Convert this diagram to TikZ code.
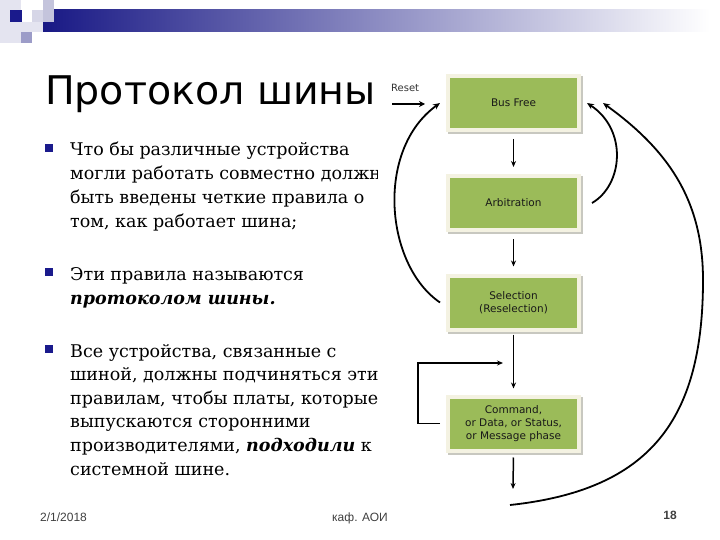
\documentclass[tikz,border=0pt]{standalone}
\usepackage{fontspec}
\setmainfont{DejaVu Serif}
\newfontfamily\titlefont{DejaVu Sans}
\newfontfamily\boxfont{DejaVu Sans}
\newfontfamily\footfont{Liberation Sans}
\usetikzlibrary{arrows.meta,calc}
\definecolor{navy}{HTML}{1A1A8C}
\definecolor{boxgreen}{HTML}{9BBB59}
\definecolor{boxframe}{HTML}{F4F2E2}
\definecolor{boxshadow}{HTML}{C8C8C0}
\definecolor{lav1}{HTML}{E4E4F0}
\definecolor{lav2}{HTML}{C4C4DC}
\definecolor{lav3}{HTML}{9C9CC8}
\definecolor{footgray}{HTML}{404040}
\tikzset{
  bodyline/.style={anchor=base west, inner sep=0pt, font=\fontsize{17.5}{22}\selectfont},
  bulletsq/.style={fill=navy, draw=none, minimum size=8pt, inner sep=0pt},
  stbox/.style={fill=boxgreen, draw=boxframe, line width=4pt, minimum width=131pt, minimum height=54pt,
    align=center, inner sep=0pt, font=\boxfont\fontsize{10.5}{13}\selectfont, text=black!90,
    preaction={draw=boxshadow, fill=boxshadow, line width=4pt, transform canvas={xshift=2pt,yshift=-2pt}}},
  arr/.style={line width=1.5pt, -{Stealth[length=6pt,width=5pt]}},
  carr/.style={line width=1.8pt, -{Stealth[length=7pt,width=6pt]}},
  footer/.style={font=\footfont\fontsize{12}{14}\selectfont, text=footgray, inner sep=0pt, anchor=base}
}
\begin{document}
\begin{tikzpicture}[x=1pt,y=-1pt]
\useasboundingbox (0,0) rectangle (720,540);
\fill[white] (0,0) rectangle (720,540);
% top decoration
\fill[lav1] (0,0) rectangle (21,43);
\fill[lav1] (10,22) rectangle (43,32);
\shade[left color=navy!95!black, right color=white] (43,10) rectangle (710,32);
\fill[lav2!70!white] (32,10) rectangle (43,22);
\fill[lav2] (43,0) rectangle (54,22);
\fill[navy] (10,10) rectangle (22,22);
\fill[lav3] (21,32) rectangle (32,43);
% title
\node[anchor=base west, inner sep=0pt, font=\titlefont\fontsize{39.5}{48}\selectfont] (title) at (45,105) {Протокол шины};
% bullets
\node[bulletsq] (b1) at (49,148) {};
\node[bulletsq] (b2) at (49,272) {};
\node[bulletsq] (b3) at (49,349) {};
\begin{scope}
\clip (0,120) rectangle (377,500);
\node[bodyline] (l1) at (70,156) {Что бы различные устройства};
\node[bodyline] (l2) at (70,179.7) {могли работать совместно должны};
\node[bodyline] (l3) at (70,203.3) {быть введены четкие правила о};
\node[bodyline] (l4) at (70,227) {том, как работает шина;};
\node[bodyline] (l5) at (70,280) {Эти правила называются};
\node[bodyline] (l6) at (70,304) {\textbf{\textit{протоколом шины.}}};
\node[bodyline] (l7) at (70,357) {Все устройства, связанные с};
\node[bodyline] (l8) at (70,380.6) {шиной, должны подчиняться этим};
\node[bodyline] (l9) at (70,404.2) {правилам, чтобы платы, которые};
\node[bodyline] (l10) at (70,427.8) {выпускаются сторонними};
\node[bodyline] (l11) at (70,451.4) {производителями, \textbf{\textit{подходили}} к};
\node[bodyline] (l12) at (70,475) {системной шине.};
\end{scope}
% footer
\node[footer, anchor=base west] (date) at (40,521) {2/1/2018};
\node[footer] (dept) at (360,521) {каф. АОИ};
\node[footer, anchor=base east, font=\footfont\bfseries\fontsize{12}{14}\selectfont] (num) at (677,519) {18};
% diagram
\node[stbox] (bf) at (513.5,103) {Bus Free};
\node[stbox] (arb) at (513.5,203) {Arbitration};
\node[stbox] (sel) at (513.5,302.5) {Selection\\(Reselection)};
\node[stbox] (cmd) at (513.5,423.5) {Command,\\or Data, or Status,\\or Message phase};
\node[anchor=west, inner sep=0pt, font=\boxfont\fontsize{10}{12}\selectfont, text=black!80] (reset) at (391,88) {Reset};
\coordinate (rs) at (392,104);
\coordinate (loopin) at (503,363);
\coordinate (cmdout) at (513,489);
\coordinate (bigstart) at (510,505);
\draw[line width=2.5pt, -{Stealth[length=6pt,width=6pt]}] (rs) -- ([xshift=-21pt]bf.west |- rs);
\draw[arr, shorten <=7pt, shorten >=7pt] (bf.south) -- (arb.north);
\draw[arr, shorten <=7pt, shorten >=7pt] (arb.south) -- (sel.north);
\draw[arr, shorten <=3pt, shorten >=6pt] (sel.south) -- (cmd.north);
\draw[arr, shorten <=5pt] (cmd.south) -- (cmdout);
\draw[arr] ([xshift=-6pt]cmd.west) -- ++(-22,0) |- (loopin);
% curves
\draw[carr] ([xshift=11pt]arb.east) .. controls (623,185) and (628,130) .. ([xshift=6pt]bf.east);
\draw[carr] ([xshift=-6pt]sel.west) .. controls (385,265) and (375,150) .. ([xshift=-6pt]bf.west);
\draw[carr] (bigstart) .. controls (650,490) and (703,420) .. (703,280) .. controls (703,200) and (668,150) .. ([xshift=22pt]bf.east);
\end{tikzpicture}
\end{document}
